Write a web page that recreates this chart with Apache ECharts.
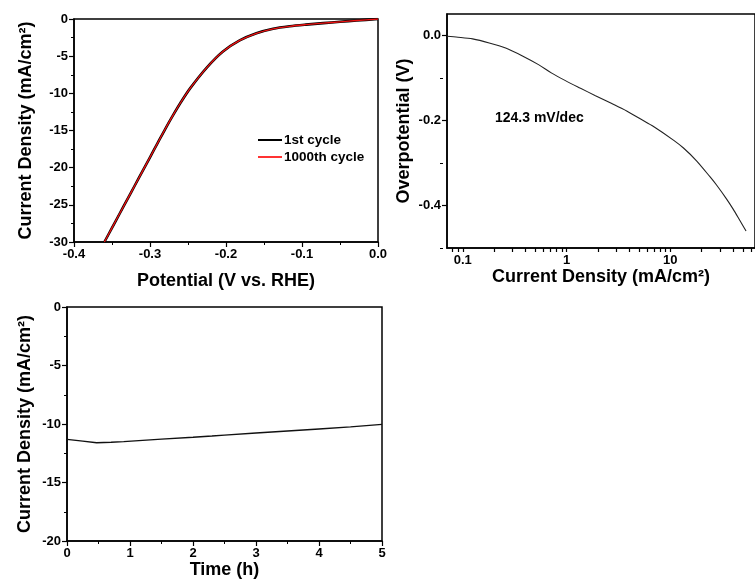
<!DOCTYPE html>
<html>
<head>
<meta charset="utf-8">
<script src="https://cdn.jsdelivr.net/npm/echarts@6/dist/echarts.min.js"></script>
<style>
html,body{margin:0;padding:0;background:#fff;}
#chart{width:755px;height:581px;}
</style>
</head>
<body>
<div id="chart"></div>
<script>
// ---- Data ----
// Panel 1: polarization curves
const lsvPotential = [0, -0.028, -0.05, -0.072, -0.095, -0.116, -0.138, -0.16, -0.182, -0.204, -0.225, -0.247, -0.26, -0.27, -0.28, -0.29, -0.30, -0.31, -0.32, -0.33, -0.34, -0.35, -0.36];
const lsvCycle1    = [0, -0.20, -0.38, -0.56, -0.76, -0.98, -1.32, -1.92, -2.88, -4.37, -6.5, -9.3, -11.3, -13.0, -14.8, -16.7, -18.6, -20.5, -22.4, -24.3, -26.2, -28.1, -30.0];
const lsvCycle1000 = [0, -0.20, -0.38, -0.56, -0.76, -0.98, -1.32, -1.92, -2.88, -4.37, -6.5, -9.3, -11.3, -13.0, -14.8, -16.7, -18.6, -20.5, -22.4, -24.3, -26.2, -28.1, -30.0];
const lsvNames = ['1st cycle', '1000th cycle'];

// Panel 2: Tafel plot
const tafelCurrent = [0.0705, 0.09, 0.1245, 0.18, 0.259, 0.372, 0.537, 0.72, 0.966, 1.35, 1.9, 2.7, 3.8, 5.18, 6.95, 10.8, 13.4, 17.9, 24.2, 27.9, 34.9, 40.2, 47, 53.7];
const tafelOverpotential = [-0.0024, -0.0045, -0.0085, -0.018, -0.030, -0.048, -0.069, -0.089, -0.106, -0.124, -0.142, -0.160, -0.178, -0.197, -0.215, -0.247, -0.265, -0.295, -0.333, -0.352, -0.385, -0.408, -0.436, -0.46];
const tafelNote = '124.3 mV/dec';

// Panel 3: stability
const timeHours = [0, 0.25, 0.47, 0.7, 0.9, 1.2, 1.5, 2.0, 2.3, 2.5, 3.0, 3.5, 4.0, 4.5, 5.0];
const stabilityCurrent = [-11.31, -11.46, -11.60, -11.56, -11.51, -11.40, -11.29, -11.13, -11.03, -10.95, -10.77, -10.60, -10.43, -10.25, -10.03];

// Tick labels
const tafelMajorTicks = [0.1, 1, 10];
const tafelMinorTicks = [0.08, 0.09, 0.2, 0.3, 0.4, 0.5, 0.6, 0.7, 0.8, 0.9, 2, 3, 4, 5, 6, 7, 8, 9, 20, 30, 40, 50, 60];
const etaMajorTicks = [-0.4, -0.2, 0.0];
const etaMinorTicks = [-0.5, -0.3, -0.1];

// ---- Styles ----
const FONT = "'Liberation Sans', Arial, Helvetica, sans-serif";
const axisLine = { show: true, onZero: false, lineStyle: { color: '#000', width: 1.5 } };
const hiddenLine = { show: false, onZero: false };
const majorTick = { show: true, inside: false, length: 5, lineStyle: { color: '#000', width: 1.2 } };
const minorTick = { show: true, splitNumber: 2, length: 3, lineStyle: { color: '#000', width: 1 } };
const tickLabel = { color: '#000', fontWeight: 'bold', fontSize: 13, fontFamily: FONT };
const nameStyle = { color: '#000', fontWeight: 'bold', fontSize: 18, fontFamily: FONT };
const gridBox = { show: true, borderColor: '#000', borderWidth: 1.5, backgroundColor: 'transparent' };
const zip = (a, b) => a.map((v, i) => [v, b[i]]);

const G2 = { left: 447, top: 14, width: 312, height: 234 };

const chart = echarts.init(document.getElementById('chart'), null, { renderer: 'canvas' });
chart.setOption({
  animation: false,
  backgroundColor: '#fff',
  textStyle: { fontFamily: FONT },
  grid: [
    Object.assign({ left: 74, top: 19, width: 304, height: 223 }, gridBox),
    Object.assign({}, G2, gridBox),
    Object.assign({ left: 67, top: 307, width: 315, height: 234 }, gridBox)
  ],
  legend: {
    data: lsvNames,
    orient: 'vertical',
    left: 253, top: 128,
    icon: 'rect',
    itemWidth: 24, itemHeight: 2, itemGap: 3,
    textStyle: { color: '#000', fontWeight: 'bold', fontSize: 13.5, fontFamily: FONT, padding: [0, 0, 0, -3] }
  },
  graphic: [
    { type: 'text', left: 495, top: 111, style: { text: tafelNote, fill: '#000', font: "bold 14px 'Liberation Sans', Arial, sans-serif" } }
  ],
  xAxis: [
    {
      gridIndex: 0, type: 'value', min: -0.4, max: 0, interval: 0.1, position: 'bottom',
      axisLine: axisLine, axisTick: majorTick, minorTick: minorTick, splitLine: { show: false },
      axisLabel: Object.assign({ margin: 6, formatter: v => v.toFixed(1) }, tickLabel),
      name: 'Potential (V vs. RHE)', nameLocation: 'middle', nameGap: 30, nameTextStyle: nameStyle
    },
    {
      gridIndex: 1, type: 'log', logBase: 10, min: 0.0705, max: 65.5, position: 'bottom',
      axisLine: axisLine,
      axisTick: { show: true, inside: false, length: 4, customValues: tafelMajorTicks.concat(tafelMinorTicks).sort((a, b) => a - b), lineStyle: { color: '#000', width: 1.2 } },
      splitLine: { show: false },
      axisLabel: Object.assign({ margin: 6, customValues: tafelMajorTicks, formatter: v => String(+v.toPrecision(3)) }, tickLabel),
      name: 'Current Density (mA/cm²)', nameLocation: 'middle', nameGap: 20, nameTextStyle: nameStyle
    },
    {
      gridIndex: 2, type: 'value', min: 0, max: 5, interval: 1, position: 'bottom',
      axisLine: axisLine, axisTick: majorTick, minorTick: minorTick, splitLine: { show: false },
      axisLabel: Object.assign({ margin: 6 }, tickLabel),
      name: 'Time (h)', nameLocation: 'middle', nameGap: 15, nameTextStyle: nameStyle
    }
  ],
  yAxis: [
    {
      gridIndex: 0, type: 'value', min: -30, max: 0, interval: 5, position: 'left',
      axisLine: axisLine, axisTick: majorTick, minorTick: minorTick, splitLine: { show: false },
      axisLabel: Object.assign({ margin: 6 }, tickLabel),
      name: 'Current Density (mA/cm²)', nameLocation: 'middle', nameGap: 39, nameTextStyle: nameStyle
    },
    {
      gridIndex: 1, type: 'value', min: -0.5, max: 0.05, position: 'left',
      axisLine: axisLine,
      axisTick: Object.assign({ customValues: etaMajorTicks }, majorTick),
      splitLine: { show: false },
      axisLabel: Object.assign({ margin: 6, customValues: etaMajorTicks, formatter: v => v.toFixed(1) }, tickLabel),
      name: 'Overpotential (V)', nameLocation: 'middle', nameGap: 34, nameTextStyle: nameStyle
    },
    {
      // minor ticks: a right axis shifted onto the left edge, ticks pointing left
      gridIndex: 1, type: 'value', min: -0.5, max: 0.05, position: 'right', offset: -G2.width,
      axisLine: hiddenLine,
      axisTick: { show: true, inside: true, customValues: etaMinorTicks, length: 3, lineStyle: { color: '#000', width: 1 } },
      axisLabel: { show: false }, splitLine: { show: false }
    },
    {
      gridIndex: 2, type: 'value', min: -20, max: 0, interval: 5, position: 'left',
      axisLine: axisLine, axisTick: majorTick, minorTick: minorTick, splitLine: { show: false },
      axisLabel: Object.assign({ margin: 6 }, tickLabel),
      name: 'Current Density (mA/cm²)', nameLocation: 'middle', nameGap: 33, nameTextStyle: nameStyle
    }
  ],
  series: [
    {
      name: lsvNames[0], type: 'line', xAxisIndex: 0, yAxisIndex: 0,
      data: zip(lsvPotential, lsvCycle1), symbol: 'none', smooth: 0.3,
      lineStyle: { color: '#000', width: 2.6 }, itemStyle: { color: '#000' }, z: 2
    },
    {
      name: lsvNames[1], type: 'line', xAxisIndex: 0, yAxisIndex: 0,
      data: zip(lsvPotential, lsvCycle1000), symbol: 'none', smooth: 0.3,
      lineStyle: { color: '#ee1111', width: 1.3 }, itemStyle: { color: '#ff3333' }, z: 3
    },
    {
      type: 'line', xAxisIndex: 1, yAxisIndex: 1,
      data: zip(tafelCurrent, tafelOverpotential), symbol: 'none', smooth: 0.3,
      lineStyle: { color: '#222', width: 1.1 }, itemStyle: { color: '#222' }
    },
    {
      type: 'line', xAxisIndex: 2, yAxisIndex: 3,
      data: zip(timeHours, stabilityCurrent), symbol: 'none',
      lineStyle: { color: '#111', width: 1.4 }, itemStyle: { color: '#111' }
    }
  ]
});
</script>
</body>
</html>
